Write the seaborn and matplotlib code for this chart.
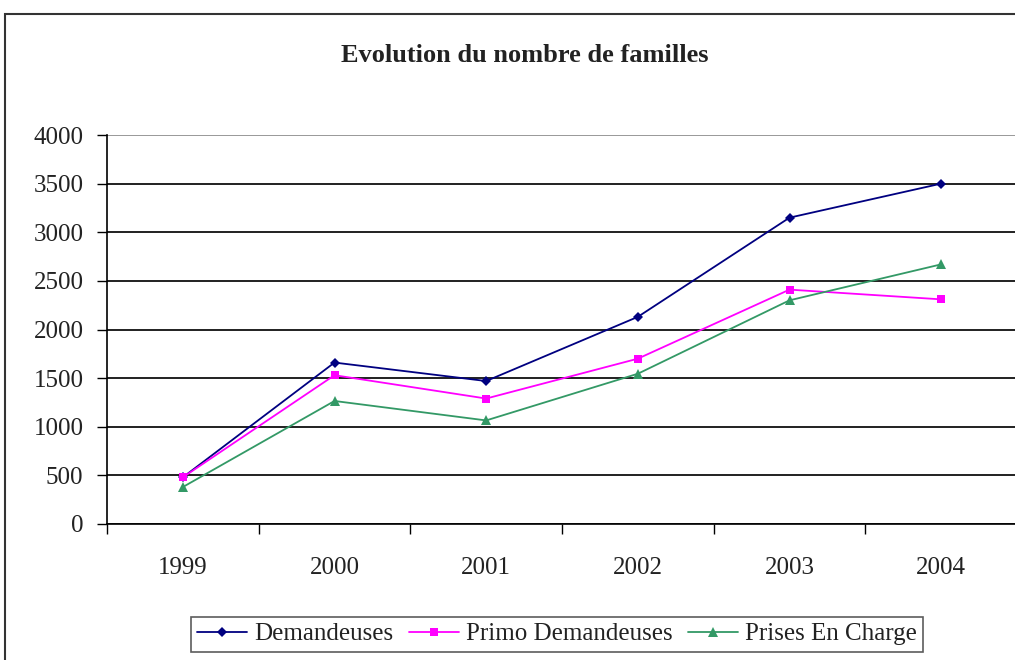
import matplotlib
matplotlib.use("Agg")
import matplotlib.pyplot as plt
from matplotlib.patches import Rectangle
import numpy as np
import pandas as pd
import seaborn as sns

years = ["1999", "2000", "2001", "2002", "2003", "2004"]
demandeuses = [480, 1660, 1470, 2130, 3150, 3500]
primo_demandeuses = [480, 1530, 1290, 1700, 2410, 2310]
prises_en_charge = [380, 1265, 1065, 1545, 2300, 2670]
series_names = ["Demandeuses", "Primo Demandeuses", "Prises En Charge"]
y_ticks = [0, 500, 1000, 1500, 2000, 2500, 3000, 3500, 4000]

df = pd.DataFrame({
    "Année": years * 3,
    "Familles": demandeuses + primo_demandeuses + prises_en_charge,
    "Série": [n for n in series_names for _ in years],
})

sns.set_theme(style="white")
plt.rcParams["font.family"] = ["Liberation Serif", "DejaVu Serif"]

fig = plt.figure(figsize=(10.15, 6.6), dpi=100)
ax = fig.add_axes([107 / 1015, 136 / 660, 910 / 1015, 389 / 660])

palette = {"Demandeuses": "#000080",
           "Primo Demandeuses": "#FF00FF",
           "Prises En Charge": "#339966"}
markers = {"Demandeuses": "D", "Primo Demandeuses": "s", "Prises En Charge": "^"}
sizes = {"Demandeuses": 5, "Primo Demandeuses": 6, "Prises En Charge": 7}

for name in series_names:
    sub = df[df["Série"] == name]
    sns.lineplot(data=sub, x="Année", y="Familles", ax=ax, color=palette[name],
                 marker=markers[name], markersize=sizes[name], markeredgewidth=0,
                 linewidth=1.3, label=name, sort=False)

ax.set_xlim(-0.5, 5.5)
ax.set_ylim(0, 4000)
ax.set_yticks(y_ticks)
ax.set_xticks(range(len(years)))
ax.set_xticklabels(years)
ax.set_xticks(np.arange(-0.5, 5.6, 1.0), minor=True)
ax.tick_params(axis="x", which="major", length=0, pad=24, labelsize=18,
               labelcolor="#222222")
ax.tick_params(axis="x", which="minor", length=7, width=1, direction="out",
               color="black", bottom=True)
ax.tick_params(axis="y", length=7, width=1, direction="out", color="black",
               left=True, labelsize=18, pad=10, labelcolor="#222222")
ax.set_xlabel("")
ax.set_ylabel("")
ax.yaxis.grid(True, color="#202020", linewidth=1.4)
ax.set_axisbelow(True)
ax.get_ygridlines()[-1].set_color("#999999")
for side in ["top", "right"]:
    ax.spines[side].set_visible(False)
for side in ["left", "bottom"]:
    ax.spines[side].set_color("black")
    ax.spines[side].set_linewidth(1.2)

fig.text(525 / 1015, 1 - 55 / 660, "Evolution du nombre de familles",
         ha="center", va="center", fontsize=19, fontweight="bold",
         color="#222222")

ax.get_legend().remove()
handles, labels = ax.get_legend_handles_labels()
leg = fig.legend(handles, labels, loc="center", ncol=3,
                 bbox_to_anchor=(557 / 1015, 1 - 634 / 660),
                 frameon=True, fancybox=False, fontsize=18,
                 handlelength=2.0, handletextpad=0.3, columnspacing=0.6,
                 borderpad=0.25, labelcolor="#222222")
leg.get_frame().set_edgecolor("#333333")
leg.get_frame().set_linewidth(1.2)

# outer chart frame
fig.patches.append(Rectangle((5 / 1015, -0.1), 1.2, 1 - 14 / 660 + 0.1,
                             transform=fig.transFigure, fill=False,
                             edgecolor="#333333", linewidth=1.5,
                             clip_on=False))

fig.savefig("out.png", dpi=100)
